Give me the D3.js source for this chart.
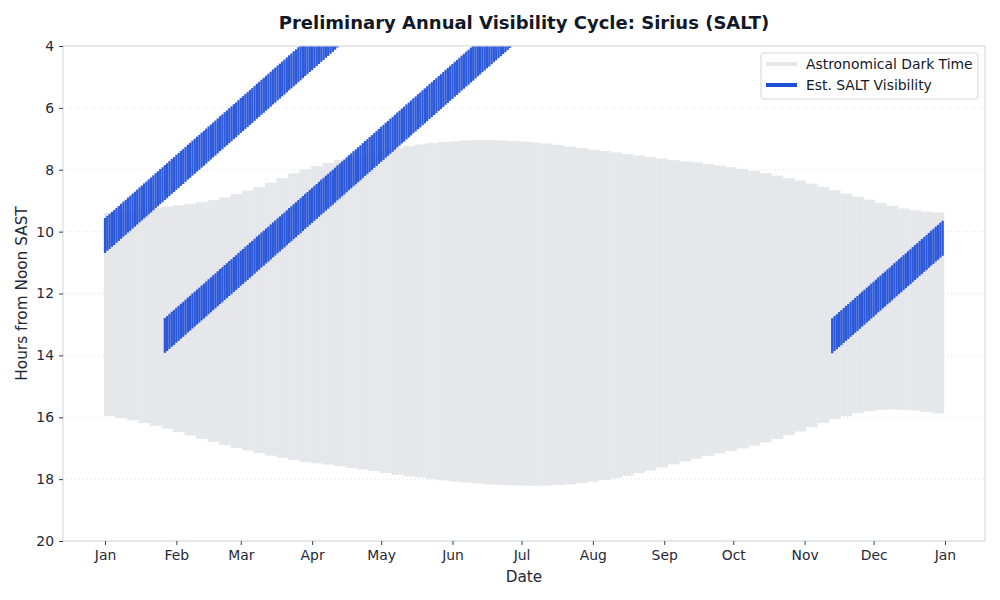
<!DOCTYPE html>
<html>
<head>
<meta charset="utf-8">
<script src="https://cdn.jsdelivr.net/npm/d3@7"></script>
<style>
  body { margin: 0; background: #fff; }
  svg { font-family: "DejaVu Sans", sans-serif; }
</style>
</head>
<body>
<div id="chart"></div>
<script>
// reference year (non-leap) – day 0 is 1 Jan
var year = 2025;

// astronomical dark time, sampled every 5 days (hours from noon SAST)
var darkStep = 5;
var darkStart = [
    9.40, 9.36, 9.31, 9.27, 9.24,
    9.19, 9.15, 9.10, 9.05, 8.98,
    8.89, 8.78, 8.67, 8.56, 8.42,
    8.27, 8.12, 7.99, 7.88, 7.78,
    7.68, 7.60, 7.51, 7.43, 7.36,
    7.30, 7.23, 7.18, 7.14, 7.10,
    7.08, 7.05, 7.04, 7.04, 7.05,
    7.07, 7.09, 7.12, 7.15, 7.20,
    7.25, 7.30, 7.35, 7.39, 7.44,
    7.49, 7.54, 7.59, 7.64, 7.69,
    7.73, 7.76, 7.81, 7.86, 7.92,
    7.97, 8.04, 8.11, 8.19, 8.27,
    8.35, 8.45, 8.55, 8.66, 8.77,
    8.87, 8.97, 9.07, 9.17, 9.25,
    9.31, 9.36, 9.38
];
var darkEnd = [
    15.96, 16.03, 16.10, 16.19, 16.28,
    16.37, 16.48, 16.59, 16.70, 16.80,
    16.90, 16.99, 17.07, 17.16, 17.24,
    17.31, 17.38, 17.44, 17.49, 17.53,
    17.58, 17.64, 17.69, 17.74, 17.80,
    17.86, 17.91, 17.95, 18.00, 18.04,
    18.08, 18.11, 18.14, 18.17, 18.19,
    18.20, 18.21, 18.22, 18.21, 18.19,
    18.17, 18.13, 18.08, 18.03, 17.97,
    17.89, 17.80, 17.72, 17.62, 17.52,
    17.43, 17.34, 17.25, 17.17, 17.09,
    17.01, 16.92, 16.81, 16.70, 16.58,
    16.46, 16.32, 16.19, 16.06, 15.96,
    15.87, 15.81, 15.77, 15.75, 15.76,
    15.78, 15.83, 15.88
];

// SALT visibility windows: daily start hour, window length is constant
var visDuration = 1.13;

// track 1 – from 1 Jan (day 0)
var track1FirstDay = 0;
var track1Start = [
    9.56, 9.49, 9.43, 9.36, 9.30, 9.23, 9.17, 9.10, 9.03, 8.97,
    8.90, 8.84, 8.77, 8.71, 8.64, 8.57, 8.51, 8.44, 8.38, 8.31,
    8.25, 8.18, 8.11, 8.05, 7.98, 7.92, 7.85, 7.79, 7.72, 7.65,
    7.59, 7.52, 7.46, 7.39, 7.33, 7.26, 7.19, 7.13, 7.06, 7.00,
    6.93, 6.87, 6.80, 6.74, 6.67, 6.60, 6.54, 6.47, 6.41, 6.34,
    6.27, 6.21, 6.14, 6.08, 6.01, 5.95, 5.88, 5.82, 5.75, 5.68,
    5.62, 5.55, 5.49, 5.42, 5.36, 5.29, 5.22, 5.16, 5.09, 5.03,
    4.96, 4.90, 4.83, 4.76, 4.70, 4.63, 4.57, 4.50, 4.44, 4.37,
    4.30, 4.24, 4.17, 4.11, 4.04, 3.98, 3.91, 3.84, 3.78, 3.71,
    3.65, 3.58, 3.52, 3.45, 3.38, 3.32, 3.25, 3.19, 3.12, 3.06,
    2.99, 2.92
];

// track 2 – from 27 Jan (day 26)
var track2FirstDay = 26;
var track2Start = [
    12.79, 12.73, 12.66, 12.59,
    12.53, 12.46, 12.40, 12.33, 12.27, 12.20, 12.13, 12.07, 12.00, 11.94,
    11.87, 11.81, 11.74, 11.68, 11.61, 11.54, 11.48, 11.41, 11.35, 11.28,
    11.21, 11.15, 11.08, 11.02, 10.95, 10.89, 10.82, 10.76, 10.69, 10.62,
    10.56, 10.49, 10.43, 10.36, 10.30, 10.23, 10.16, 10.10, 10.03, 9.97,
    9.90, 9.84, 9.77, 9.70, 9.64, 9.57, 9.51, 9.44, 9.38, 9.31,
    9.24, 9.18, 9.11, 9.05, 8.98, 8.92, 8.85, 8.78, 8.72, 8.65,
    8.59, 8.52, 8.46, 8.39, 8.32, 8.26, 8.19, 8.13, 8.06, 8.00,
    7.93, 7.86, 7.80, 7.73, 7.67, 7.60, 7.53, 7.47, 7.40, 7.34,
    7.27, 7.21, 7.14, 7.07, 7.01, 6.94, 6.88, 6.81, 6.75, 6.68,
    6.61, 6.55, 6.48, 6.42, 6.35, 6.29, 6.22, 6.15, 6.09, 6.02,
    5.96, 5.89, 5.83, 5.76, 5.69, 5.63, 5.56, 5.50, 5.43, 5.37,
    5.30, 5.23, 5.17, 5.10, 5.04, 4.97, 4.91, 4.84, 4.77, 4.71,
    4.64, 4.58, 4.51, 4.45, 4.38, 4.31, 4.25, 4.18, 4.12, 4.05,
    3.99, 3.92, 3.85, 3.79, 3.72, 3.66, 3.59, 3.53, 3.46, 3.39,
    3.33, 3.26, 3.20, 3.13, 3.07, 3.00, 2.93
];

// track 1 again after it wraps round the day – from 13 Nov (day 316)
var track3FirstDay = 316;
var track3Start = [
    12.80, 12.73, 12.67, 12.60,
    12.54, 12.47, 12.40, 12.34, 12.27, 12.21, 12.14, 12.08, 12.01, 11.94,
    11.88, 11.81, 11.75, 11.68, 11.62, 11.55, 11.48, 11.42, 11.35, 11.29,
    11.22, 11.16, 11.09, 11.02, 10.96, 10.89, 10.83, 10.76, 10.70, 10.63,
    10.57, 10.50, 10.43, 10.37, 10.30, 10.24, 10.17, 10.11, 10.04, 9.97,
    9.91, 9.84, 9.78, 9.71, 9.65
];

var yTicks = [4, 6, 8, 10, 12, 14, 16, 18, 20];

var width = 1000;
var height = 600;
var padding = {top: 46, bottom: 59, left: 63, right: 15};

var darkColour = '#e5e7eb';
var visColour = '#1d4ed8';

var dayMs = 864e5;
var t0 = +new Date(year, 0, 1);
function dayTime(d) { return new Date(t0 + d * dayMs); }

var x_scale = d3.scaleTime()
    .domain([dayTime(-18.25), dayTime(365 + 17.4)])
    .range([padding.left, width - padding.right]);

var y_scale = d3.scaleLinear()
    .domain([4, 20])
    .range([padding.top, height - padding.bottom]);

var svg = d3.select('#chart')
    .append('svg')
    .attr('width', width)
    .attr('height', height);

svg.append('defs').append('clipPath')
    .attr('id', 'plot-clip')
    .append('rect')
    .attr('x', padding.left)
    .attr('y', padding.top)
    .attr('width', width - padding.left - padding.right)
    .attr('height', height - padding.top - padding.bottom);

// horizontal dotted grid
svg.append('g')
    .attr('class', 'grid')
    .selectAll('line')
    .data(yTicks)
    .enter().append('line')
    .attr('x1', padding.left)
    .attr('x2', width - padding.right)
    .attr('y1', function(d){ return y_scale(d); })
    .attr('y2', function(d){ return y_scale(d); })
    .attr('stroke', '#d1d5db')
    .attr('stroke-width', 0.8)
    .attr('stroke-dasharray', '1,3');

var plot = svg.append('g').attr('clip-path', 'url(#plot-clip)');

// dark time bars
var darkData = darkStart.map(function(s, i){
    return {day: i * darkStep, start: s, end: darkEnd[i]};
});

plot.selectAll('rect.dark')
    .data(darkData)
    .enter().append('rect')
    .attr('class', 'dark')
    .attr('x', function(d){ return x_scale(dayTime(d.day - 0.45)); })
    .attr('width', function(d){ return x_scale(dayTime(d.day + darkStep - 0.45)) - x_scale(dayTime(d.day - 0.45)) + 0.3; })
    .attr('y', function(d){ return y_scale(d.start); })
    .attr('height', function(d){ return y_scale(d.end) - y_scale(d.start); })
    .attr('fill', darkColour);

// visibility bars
var visData = [];
[[track1FirstDay, track1Start], [track2FirstDay, track2Start], [track3FirstDay, track3Start]]
    .forEach(function(t){
        t[1].forEach(function(s, i){
            visData.push({day: t[0] + i, start: s, end: s + visDuration});
        });
    });

plot.selectAll('rect.vis')
    .data(visData)
    .enter().append('rect')
    .attr('class', 'vis')
    .attr('x', function(d){ return x_scale(dayTime(d.day - 0.49)); })
    .attr('width', function(d){ return x_scale(dayTime(d.day + 0.49)) - x_scale(dayTime(d.day - 0.49)); })
    .attr('y', function(d){ return y_scale(d.start); })
    .attr('height', function(d){ return y_scale(d.end) - y_scale(d.start); })
    .attr('fill', visColour)
    .attr('fill-opacity', 0.93);

// frame
svg.append('rect')
    .attr('x', padding.left)
    .attr('y', padding.top)
    .attr('width', width - padding.left - padding.right)
    .attr('height', height - padding.top - padding.bottom)
    .attr('fill', 'none')
    .attr('stroke', '#d1d5db')
    .attr('stroke-width', 1);

// axes
var monthTicks = d3.timeMonth.range(new Date(year, 0, 1), new Date(year + 1, 0, 2));

var x_axis = d3.axisBottom(x_scale)
    .tickValues(monthTicks)
    .tickFormat(d3.timeFormat('%b'))
    .tickSize(4)
    .tickPadding(5);

var y_axis = d3.axisLeft(y_scale)
    .tickValues(yTicks)
    .tickSize(4)
    .tickPadding(5);

var gx = svg.append('g')
    .attr('class', 'x axis')
    .attr('transform', 'translate(0,' + (height - padding.bottom) + ')')
    .call(x_axis);

var gy = svg.append('g')
    .attr('class', 'y axis')
    .attr('transform', 'translate(' + padding.left + ',0)')
    .call(y_axis);

[gx, gy].forEach(function(g){
    g.select('.domain').remove();
    g.selectAll('.tick line').attr('stroke', '#374151');
    g.selectAll('.tick text')
        .attr('fill', '#1f2937')
        .attr('font-size', '13.9px')
        .attr('font-family', '"DejaVu Sans", sans-serif');
});

// labels
svg.append('text')
    .attr('x', (padding.left + width - padding.right) / 2)
    .attr('y', 29)
    .attr('text-anchor', 'middle')
    .attr('font-size', '18px')
    .attr('font-weight', 'bold')
    .attr('fill', '#111827')
    .text('Preliminary Annual Visibility Cycle: Sirius (SALT)');

svg.append('text')
    .attr('x', (padding.left + width - padding.right) / 2)
    .attr('y', 582)
    .attr('text-anchor', 'middle')
    .attr('font-size', '15.3px')
    .attr('fill', '#1f2937')
    .text('Date');

svg.append('text')
    .attr('transform', 'rotate(-90)')
    .attr('x', -(padding.top + height - padding.bottom) / 2)
    .attr('y', 27)
    .attr('text-anchor', 'middle')
    .attr('font-size', '15.3px')
    .attr('fill', '#1f2937')
    .text('Hours from Noon SAST');

// legend
var legend = svg.append('g')
    .attr('class', 'legend')
    .attr('transform', 'translate(761,53)');

legend.append('rect')
    .attr('width', 217)
    .attr('height', 46)
    .attr('rx', 3)
    .attr('fill', '#fff')
    .attr('fill-opacity', 0.8)
    .attr('stroke', '#d1d5db');

var legendItems = [
    {label: 'Astronomical Dark Time', colour: darkColour},
    {label: 'Est. SALT Visibility', colour: visColour}
];

var item = legend.selectAll('g.item')
    .data(legendItems)
    .enter().append('g')
    .attr('class', 'item')
    .attr('transform', function(d, i){ return 'translate(0,' + (11 + i * 21) + ')'; });

item.append('line')
    .attr('x1', 5)
    .attr('x2', 36)
    .attr('stroke', function(d){ return d.colour; })
    .attr('stroke-width', 4);

item.append('text')
    .attr('x', 45)
    .attr('dy', '0.35em')
    .attr('font-size', '13.9px')
    .attr('fill', '#111827')
    .text(function(d){ return d.label; });
</script>
</body>
</html>
